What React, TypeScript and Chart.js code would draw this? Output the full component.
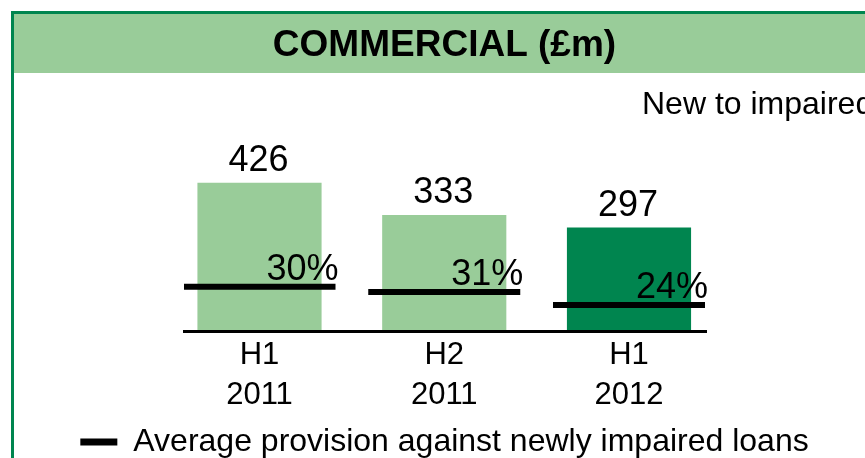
import React, { useEffect, useRef } from 'react';
import { Chart, registerables } from 'chart.js';

Chart.register(...registerables);

// ---- data ----
const periodLabels: string[][] = [['H1', '2011'], ['H2', '2011'], ['H1', '2012']];
const periodIndex: number[] = [0, 1, 2];
const newToImpaired: number[] = [426, 333, 297];
const provisionPct: number[] = [30, 31, 24];
// height of each provision marker in £m units of the bar scale
const provisionMarkerLevel: number[] = [128, 113, 76];
const barColors: string[] = ['#99CC99', '#99CC99', '#00854F'];
const chartTitle = 'COMMERCIAL (£m)';
const barSeriesName = 'New to impaired';
const markerSeriesName = 'Average provision against newly impaired loans';

const FONT = "'Liberation Sans', Arial, Helvetica, sans-serif";
const MARKER_HALF = 76;
const LIGHT = '#99CC99';
const DARK = '#00854F';

const framePlugin = {
  id: 'frame',
  beforeDraw(chart: any) {
    const { ctx, width, height } = chart;
    ctx.save();
    ctx.fillStyle = '#ffffff';
    ctx.fillRect(0, 0, width, height);
    ctx.fillStyle = LIGHT;
    ctx.fillRect(14, 14, width - 14, 59);
    ctx.fillStyle = DARK;
    ctx.fillRect(11, 11, width - 11, 3);
    ctx.fillRect(11, 11, 3, height - 11);
    ctx.fillStyle = '#000';
    ctx.font = `32px ${FONT}`;
    ctx.textAlign = 'left';
    ctx.textBaseline = 'alphabetic';
    ctx.fillText(barSeriesName, 642, 114);
    ctx.restore();
  },
};

const valueLabelPlugin = {
  id: 'valueLabels',
  afterDatasetsDraw(chart: any) {
    const { ctx } = chart;
    ctx.save();
    ctx.fillStyle = '#000';
    ctx.font = `36px ${FONT}`;
    ctx.textBaseline = 'alphabetic';
    const barMeta = chart.getDatasetMeta(1);
    barMeta.data.forEach((el: any, i: number) => {
      ctx.textAlign = 'center';
      ctx.fillText(String(newToImpaired[i]), el.x - 1, el.y - 12);
    });
    const lineMeta = chart.getDatasetMeta(0);
    lineMeta.data.forEach((el: any, i: number) => {
      ctx.textAlign = 'right';
      ctx.fillText(`${provisionPct[i]}%`, el.x + MARKER_HALF + 3, el.y - 7);
    });
    ctx.restore();
  },
};

export default function App() {
  const ref = useRef<HTMLCanvasElement>(null);

  useEffect(() => {
    if (!ref.current) return;
    const chart = new Chart(ref.current, {
      type: 'bar',
      data: {
        datasets: [
          {
            type: 'line',
            label: markerSeriesName,
            data: periodIndex.map((x, i) => ({ x, y: provisionMarkerLevel[i] })),
            showLine: false,
            borderWidth: 0,
            backgroundColor: '#000',
            borderColor: '#000',
            pointStyle: 'line',
            pointRadius: MARKER_HALF,
            pointHoverRadius: MARKER_HALF,
            pointBorderWidth: 6,
            pointBorderColor: '#000',
            order: 1,
          } as any,
          {
            type: 'bar',
            label: barSeriesName,
            data: periodIndex.map((x, i) => ({ x, y: newToImpaired[i] })),
            backgroundColor: barColors,
            borderWidth: 0,
            barThickness: 123.5,
            order: 2,
          } as any,
        ],
      },
      options: {
        animation: false,
        responsive: false,
        devicePixelRatio: 1,
        events: [],
        layout: { padding: { left: 24, right: 0, top: 0, bottom: 0 } },
        scales: {
          x: {
            type: 'linear',
            offset: false,
            min: -0.4087,
            max: 2.4168,
            grid: { display: false, drawTicks: false, offset: false },
            border: { display: true, color: '#000', width: 3, z: 1 },
            afterBuildTicks: (s: any) => {
              s.ticks = periodIndex.map((v) => ({ value: v }));
            },
            afterFit: (s: any) => {
              s.height = 84.5;
            },
            ticks: {
              autoSkip: false,
              maxRotation: 0,
              padding: 3.5,
              color: '#000',
              font: { family: FONT, size: 31, lineHeight: 1.29 },
              callback: (_v: any, i: number) => periodLabels[i],
            },
          },
          y: {
            display: true,
            position: 'left',
            min: 0,
            max: 600,
            grid: { display: false, drawTicks: false },
            border: { display: false },
            ticks: { display: false },
            afterFit: (s: any) => {
              s.width = 160;
            },
          },
          y2: {
            display: true,
            position: 'right',
            min: 0,
            max: 600,
            grid: { display: false, drawTicks: false },
            border: { display: false },
            ticks: { display: false },
            afterFit: (s: any) => {
              s.width = 159;
            },
          },
        },
        plugins: {
          tooltip: { enabled: false },
          title: {
            display: true,
            text: chartTitle,
            color: '#000',
            font: { family: FONT, size: 37, weight: 'bold', lineHeight: 1.2 },
            padding: { top: 23.8, bottom: 54.1 },
          },
          legend: {
            display: true,
            position: 'bottom',
            labels: {
              color: '#000',
              font: { family: FONT, size: 32 },
              boxWidth: 37,
              boxHeight: 7,
              padding: 10,
              generateLabels: () => [
                {
                  text: markerSeriesName,
                  fillStyle: '#000',
                  strokeStyle: '#000',
                  lineWidth: 0,
                  hidden: false,
                  datasetIndex: 0,
                  fontColor: '#000',
                },
              ],
            },
          },
        },
      } as any,
      plugins: [framePlugin, valueLabelPlugin],
    });
    return () => chart.destroy();
  }, []);

  return (
    <div
      style={{
        position: 'fixed',
        left: 0,
        top: 0,
        width: 865,
        height: 458,
        overflow: 'hidden',
        background: '#fff',
      }}
    >
      <canvas ref={ref} width={865} height={468} style={{ display: 'block', width: 865, height: 468 }} />
    </div>
  );
}
